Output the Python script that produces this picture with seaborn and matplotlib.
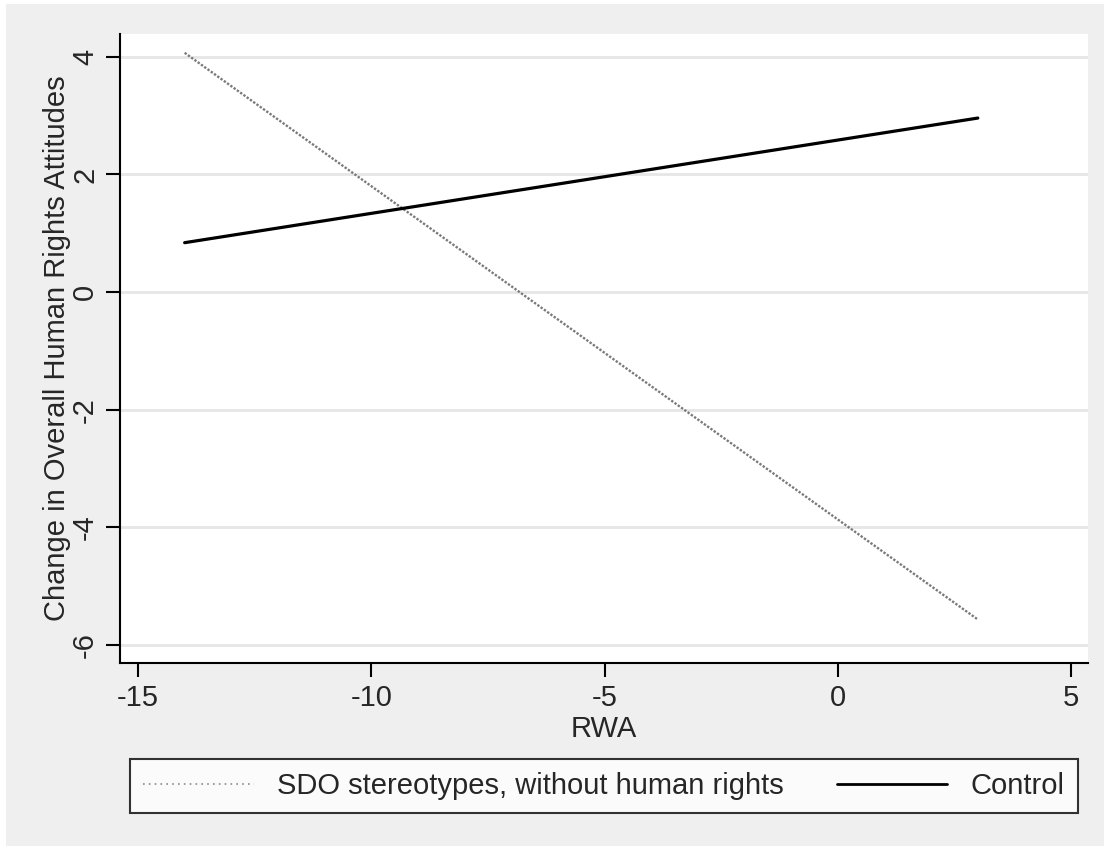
import matplotlib
matplotlib.use("Agg")
import matplotlib.pyplot as plt
from matplotlib.patches import Rectangle
from matplotlib.lines import Line2D
import seaborn as sns
import pandas as pd

# Data
rwa = [-14, 3]
sdo_values = [4.07, -5.57]
control_values = [0.84, 2.96]
series_names = ["SDO stereotypes, without human rights", "Control"]
x_ticks = [-15, -10, -5, 0, 5]
y_ticks = [-6, -4, -2, 0, 2, 4]

df = pd.DataFrame({
    "RWA": rwa + rwa,
    "value": sdo_values + control_values,
    "group": [series_names[0]] * len(rwa) + [series_names[1]] * len(rwa),
})

sns.set_style("white")
plt.rcParams["font.family"] = ["Liberation Sans", "DejaVu Sans"]
plt.rcParams["axes.unicode_minus"] = False

FS = 21

fig = plt.figure(figsize=(11.1, 8.5), dpi=100, facecolor="white")
fig.patches.append(Rectangle((0.005, 0.005), 0.99, 0.99, transform=fig.transFigure,
                             facecolor="#EFEFEF", edgecolor="none", zorder=-10))
ax = fig.add_axes([0.1081, 0.22, 0.8720, 0.74])
ax.set_facecolor("white")

sns.lineplot(data=df, x="RWA", y="value", hue="group", style="group",
             palette={series_names[0]: "#7a7a7a", series_names[1]: "black"},
             dashes={series_names[0]: (1, 0.7), series_names[1]: ""},
             ax=ax, legend=False)
ax.lines[0].set_linewidth(1.7)
ax.lines[1].set_linewidth(2.3)

ax.set_xlim(-15.386, 5.36)
ax.set_ylim(-6.31, 4.39)
ax.set_xticks(x_ticks)
ax.set_yticks(y_ticks)
ax.set_xticklabels([str(t) for t in x_ticks])
ax.set_yticklabels([str(t) for t in y_ticks], rotation=90, va="center")
ax.tick_params(axis="both", direction="out", length=10, width=1.5, labelsize=FS,
               color="black", pad=5, left=True, bottom=True)
ax.grid(axis="y", color="#E6E6E6", linewidth=2)
ax.set_axisbelow(True)
for s in ["top", "right"]:
    ax.spines[s].set_visible(False)
for s in ["left", "bottom"]:
    ax.spines[s].set_color("black")
    ax.spines[s].set_linewidth(1.5)

ax.set_xlabel("RWA", fontsize=FS, labelpad=2)
ax.set_ylabel("Change in Overall Human Rights Attitudes", fontsize=FS, labelpad=0)

handles = [Line2D([], [], color="#8a8a8a", linestyle=(0, (1, 2.5)), linewidth=1.2),
           Line2D([], [], color="black", linewidth=2.0)]
leg = fig.legend(handles, series_names, loc="lower left",
                 bbox_to_anchor=(0.117, 0.0435, 0.854, 0.06), mode="expand",
                 ncol=2, fontsize=FS, frameon=True, fancybox=False,
                 handlelength=3.8, handletextpad=0.8, borderpad=0.45,
                 borderaxespad=0)
leg.get_frame().set_edgecolor("black")
leg.get_frame().set_linewidth(1.5)
leg.get_frame().set_facecolor("white")

fig.savefig("out.png", dpi=100, facecolor=fig.get_facecolor())
